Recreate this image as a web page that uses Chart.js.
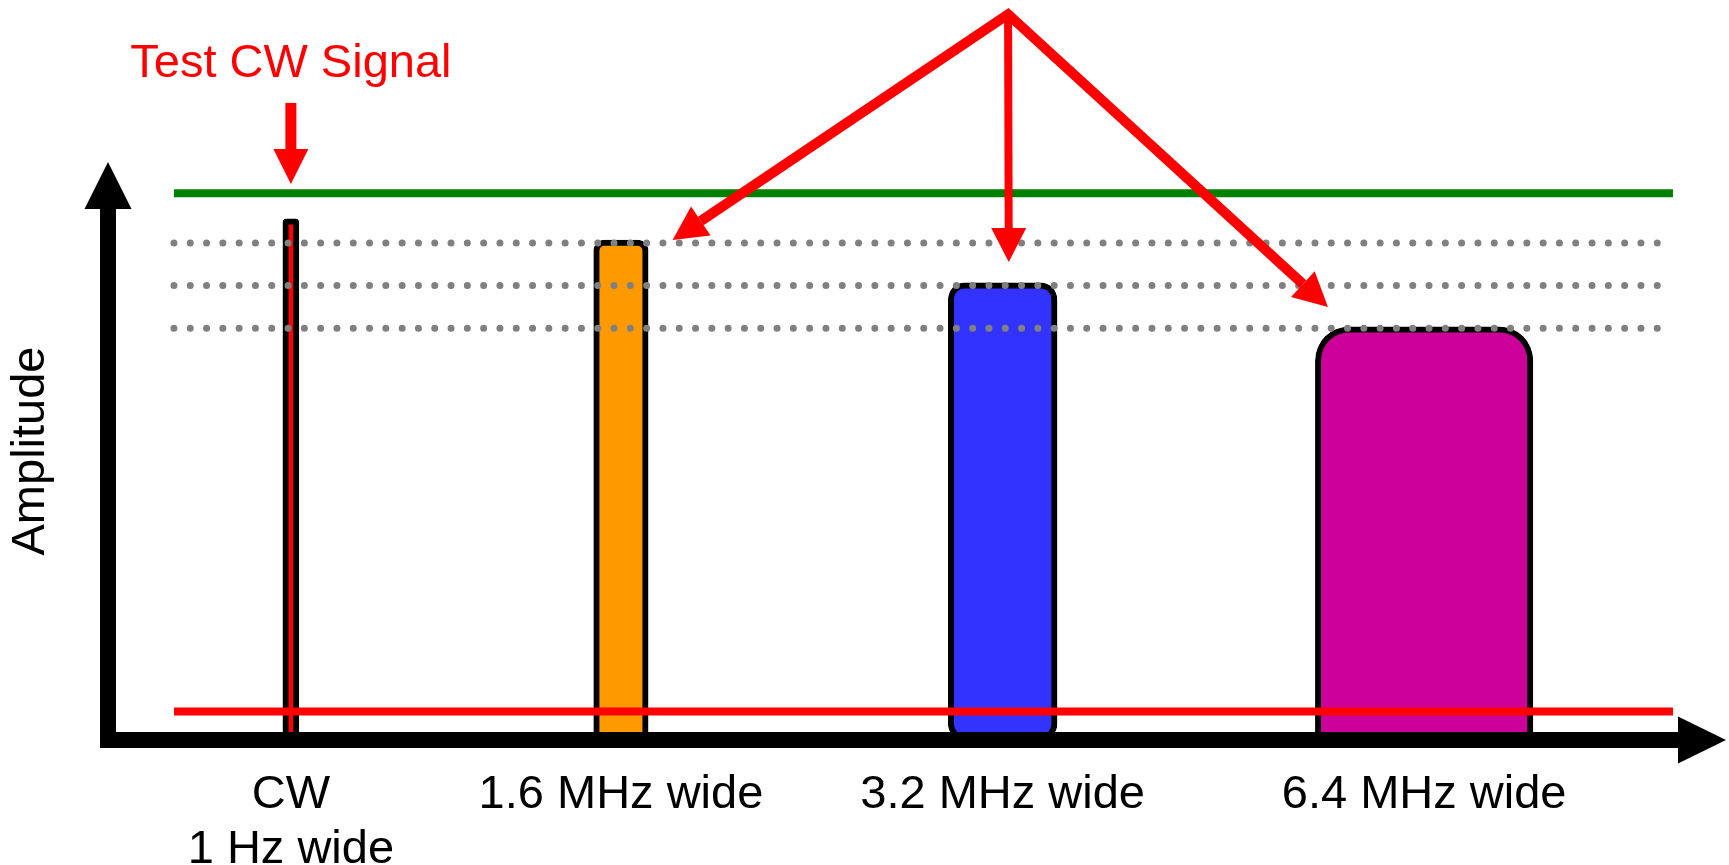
<!DOCTYPE html>
<html>
<head>
<meta charset="utf-8">
<script src="https://cdn.jsdelivr.net/npm/chart.js@4.4.0/dist/chart.umd.min.js"></script>
<style>
  html, body { margin: 0; padding: 0; background: #fff; }
  #wrap { width: 1729px; height: 865px; position: relative; }
</style>
</head>
<body>
<div id="wrap"><canvas id="spectrum"></canvas></div>
<script>
// Signals: x = frequency position (MHz), y = amplitude (dB above the axis)
const signalNames = ['CW', '1.6 MHz', '3.2 MHz', '6.4 MHz'];
const signalCenters = [5.38, 15.09, 26.32, 38.72];
const signalWidths = [0.000001, 1.6, 3.2, 6.4];
const signalPeaks = [36.7, 35.2, 32.2, 29.1];
const tickLabels = [['CW', '1 Hz wide'], '1.6 MHz wide', '3.2 MHz wide', '6.4 MHz wide'];

// Horizontal reference lines
const lineSpan = [1.94, 46.04];
const thresholdLevel = 38.5;
const noiseFloor = 2.0;
const refLevels = [35, 32, 29];

// Annotations (data coordinates)
const cwLabel = { text: 'Test CW Signal', x: 5.38, y: 47.6 };
const cwArrow = { from: [5.38, 44.86], to: [5.38, 39.15] };
const apex = [26.48, 51.1];
const pointerTips = [[16.61, 35.21], [26.50, 33.66], [35.89, 30.49]];

// Axis ranges
const xRange = [0, 47.6];
const yRange = [0, 40.7];

const FONT = '"Liberation Sans", Arial, Helvetica, sans-serif';
const barColors = ['#ff0000', '#ff9900', '#3333ff', '#cc0099'];
const topRadius = [4, 11, 17, 34];
const bottomRadius = [0, 0, 16, 0];
const minBarPx = 16;

const datasets = [];
datasets.push({
  type: 'line', label: 'threshold',
  data: lineSpan.map(x => ({ x: x, y: thresholdLevel })),
  borderColor: '#008000', borderWidth: 8, pointRadius: 0, order: 1
});
datasets.push({
  type: 'line', label: 'noise floor',
  data: lineSpan.map(x => ({ x: x, y: noiseFloor })),
  borderColor: '#ff0000', borderWidth: 8, pointRadius: 0, order: 1
});
refLevels.forEach(level => {
  datasets.push({
    type: 'line', label: 'ref ' + level,
    data: lineSpan.map(x => ({ x: x, y: level })),
    borderColor: '#808080', borderWidth: 7, borderDash: [0, 16.3],
    borderCapStyle: 'round', pointRadius: 0, order: 1
  });
});
const barStart = datasets.length;
signalCenters.forEach((c, i) => {
  datasets.push({
    type: 'bar', label: signalNames[i],
    data: [{ x: c, y: signalPeaks[i] }],
    backgroundColor: barColors[i], borderColor: '#000', borderWidth: 6,
    borderSkipped: false,
    borderRadius: { topLeft: topRadius[i], topRight: topRadius[i], bottomLeft: bottomRadius[i], bottomRight: bottomRadius[i] },
    grouped: false, barPercentage: 1, categoryPercentage: 1,
    maxBarThickness: minBarPx, order: 2
  });
});

function drawArrow(ctx, x1, y1, x2, y2, shaft, headLen, headW, color) {
  const ang = Math.atan2(y2 - y1, x2 - x1);
  const c = Math.cos(ang), s = Math.sin(ang);
  const bx = x2 - headLen * c, by = y2 - headLen * s;
  ctx.save();
  ctx.strokeStyle = color;
  ctx.fillStyle = color;
  ctx.lineWidth = shaft;
  ctx.lineCap = 'butt';
  ctx.beginPath();
  ctx.moveTo(x1, y1);
  ctx.lineTo(bx + c, by + s);
  ctx.stroke();
  ctx.beginPath();
  ctx.moveTo(x2, y2);
  ctx.lineTo(bx + headW / 2 * s, by - headW / 2 * c);
  ctx.lineTo(bx - headW / 2 * s, by + headW / 2 * c);
  ctx.closePath();
  ctx.fill();
  ctx.restore();
}

function drawHead(ctx, fx, fy, x2, y2, headLen, headW, color) {
  const ang = Math.atan2(y2 - fy, x2 - fx);
  const c = Math.cos(ang), s = Math.sin(ang);
  const bx = x2 - headLen * c, by = y2 - headLen * s;
  ctx.fillStyle = color;
  ctx.beginPath();
  ctx.moveTo(x2, y2);
  ctx.lineTo(bx + headW / 2 * s, by - headW / 2 * c);
  ctx.lineTo(bx - headW / 2 * s, by + headW / 2 * c);
  ctx.closePath();
  ctx.fill();
  return [bx, by];
}

const overlay = {
  id: 'overlay',
  afterDatasetsDraw(chart) {
    const { ctx, chartArea, scales: { x, y } } = chart;
    const px = v => x.getPixelForValue(v);
    const py = v => y.getPixelForValue(v);

    // axes
    const x0 = px(0), y0 = py(0);
    drawArrow(ctx, x0, y0 + 8, x0, chartArea.top, 16, 47, 47, '#000');
    drawArrow(ctx, x0 - 8, y0, chartArea.right, y0, 16, 48, 47, '#000');

    // CW label and arrow
    ctx.save();
    ctx.font = '47px ' + FONT;
    ctx.fillStyle = '#ff0000';
    ctx.textAlign = 'center';
    ctx.textBaseline = 'middle';
    ctx.fillText(cwLabel.text, px(cwLabel.x), py(cwLabel.y));
    ctx.restore();
    drawArrow(ctx, px(cwArrow.from[0]), py(cwArrow.from[1]), px(cwArrow.to[0]), py(cwArrow.to[1]), 11, 35, 35, '#ff0000');

    // pointer arrows from a common apex
    ctx.save();
    const ax = px(apex[0]), ay = py(apex[1]);
    const bases = pointerTips.map(t => drawHead(ctx, ax, ay, px(t[0]), py(t[1]), 34, 35, '#ff0000'));
    ctx.strokeStyle = '#ff0000';
    ctx.lineJoin = 'miter';
    ctx.miterLimit = 10;
    ctx.lineWidth = 10;
    ctx.beginPath();
    ctx.moveTo(bases[0][0], bases[0][1]);
    ctx.lineTo(ax, ay);
    ctx.lineTo(bases[2][0], bases[2][1]);
    ctx.stroke();
    ctx.lineWidth = 8;
    ctx.beginPath();
    ctx.moveTo(ax, ay);
    ctx.lineTo(bases[1][0], bases[1][1] + 1);
    ctx.stroke();
    ctx.restore();
  }
};

const chart = new Chart(document.getElementById('spectrum'), {
  type: 'bar',
  data: { datasets: datasets },
  options: {
    responsive: true,
    maintainAspectRatio: false,
    animation: false,
    layout: { autoPadding: false, padding: { top: 162, right: 3, bottom: 0, left: 0 } },
    plugins: { legend: { display: false }, tooltip: { enabled: false } },
    scales: {
      x: {
        type: 'linear',
        min: xRange[0], max: xRange[1],
        offset: false,
        grid: { display: false },
        border: { display: false },
        afterBuildTicks: scale => { scale.ticks = signalCenters.map(v => ({ value: v })); },
        afterFit: scale => { scale.height = 125; },
        ticks: {
          autoSkip: false, maxRotation: 0, minRotation: 0, padding: 20,
          color: '#000',
          font: { family: FONT, size: 47, lineHeight: 1.17 },
          callback: (value, index) => tickLabels[index]
        }
      },
      y: {
        min: yRange[0], max: yRange[1],
        grid: { display: false },
        border: { display: false },
        ticks: { display: false },
        afterFit: scale => { scale.width = 108; },
        title: {
          display: true, text: 'Amplitude', color: '#000',
          font: { family: FONT, size: 47 },
          padding: { top: 3, bottom: 0 }
        }
      }
    }
  },
  plugins: [overlay]
});

// bar widths follow the bandwidth on the frequency scale
const xs = chart.scales.x;
const pxPerMHz = xs.getPixelForValue(1) - xs.getPixelForValue(0);
signalWidths.forEach((w, i) => {
  chart.data.datasets[barStart + i].maxBarThickness = Math.max(minBarPx, w * pxPerMHz);
});
chart.update();
</script>
</body>
</html>
